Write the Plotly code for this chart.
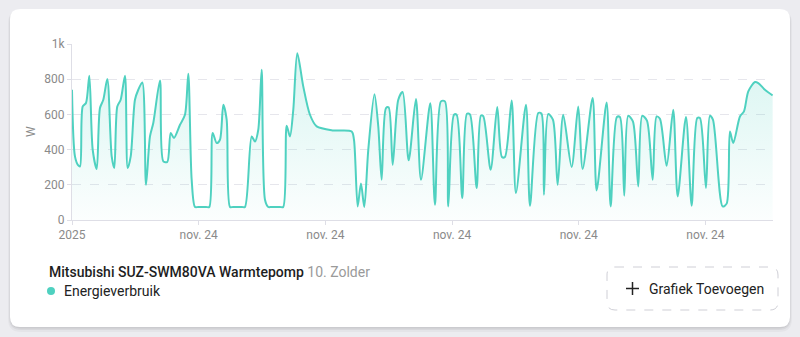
import plotly.graph_objects as go

# ---- data (hours since start, power in W) ----
hours = [0, 0.57, 1.19, 1.52, 2.03, 2.65, 3.28, 3.92, 4.68, 5.30, 5.93, 6.69, 7.52, 8.01,
         8.58, 9.22, 10.04, 10.55, 11.12, 11.93, 12.56, 13.32, 14.02, 14.77, 15.40, 16.67,
         17.29, 18.05, 18.70, 19.32, 20.46, 21.40, 22.03, 22.67, 23.30, 23.9, 25.4, 26.01,
         26.65, 27.41, 28.03, 28.66, 29.30, 29.93, 30.5, 32.2, 32.77, 34.04, 34.66, 35.29,
         35.93, 36.56, 37.18, 37.8, 39.4, 40.02,
         40.67, 41.29, 41.92, 42.68, 43.81, 45.08, 46.35, 49.49, 52.98, 53.42, 54.12, 54.74,
         55.37, 56.13, 57.30, 58.02, 58.66, 59.48, 59.99, 60.75, 61.81, 62.64, 63.78, 65.16,
         66.11, 67.87, 68.76, 69.90, 70.65, 71.28, 72.36, 72.87, 73.93, 74.82, 75.39, 76.66,
         77.47, 77.91, 79.31, 80.56, 81.45, 82.02, 83.29, 84.10, 86.00, 86.76, 88.33, 88.93,
         89.41, 90.22, 91.11, 92.00, 93.06, 94.65, 95.90, 96.74, 98.63, 99.39, 101.28, 102.04,
         103.23, 103.80, 104.62, 105.37, 106.26, 107.27, 108.03, 108.92, 110.00, 110.75,
         111.38, 112.65, 113.90, 114.74, 116.31, 117.39, 118.45, 118.96, 120.10, 120.85,
         121.42, 123.26, 124.02, 124.64, 125.27, 126.54, 127.30, 128.12, 129.38, 130.01,
         131.27, 132.73]
watts = [740, 360, 310, 305, 645, 665, 820, 400, 290, 636, 683, 801, 361, 295,
         645, 683, 820, 295, 361, 683, 740, 782, 200, 475, 551, 793,
         333, 330, 494, 466, 541, 598, 831, 229, 74, 74, 74, 74,
         494, 437, 456, 655, 570, 74, 74, 74, 74, 475, 446, 513,
         854, 115, 74, 74, 74, 74,
         536, 475, 626, 948, 759, 598, 532, 509, 503, 456, 77, 208,
         74, 400, 715, 532, 229, 636, 640, 314, 683, 727, 339, 687,
         229, 663, 87, 674, 674, 77, 598, 598, 125, 604, 600, 182,
         594, 590, 286, 642, 358, 358, 679, 153, 655, 81, 608, 605,
         144, 602, 570, 200, 598, 301, 645, 290, 693, 168, 667, 77,
         585, 585, 138, 592, 560, 191, 592, 565, 229, 588,
         575, 308, 626, 134, 585, 81, 579, 579, 182, 592,
         570, 77, 93, 503, 437, 588, 617, 731, 784, 778,
         740, 708]

x_tick_vals = [0, 24, 48, 72, 96, 120]
x_tick_text = ["2025", "nov. 24", "nov. 24", "nov. 24", "nov. 24", "nov. 24"]
y_tick_vals = [0, 200, 400, 600, 800, 1000]
y_tick_text = ["0", "200", "400", "600", "800", "1k"]

device_name = "Mitsubishi SUZ-SWM80VA Warmtepomp"
room_name = "10. Zolder"
series_name = "Energieverbruik"
button_text = "Grafiek Toevoegen"

LINE = "#4fd1c0"
FONT = "Roboto"

# ---- layout geometry (pixels) ----
W, H = 800, 337
L, R, T, B = 72, 27, 44, 117
PW, PH = W - L - R, H - T - B


def px(x):
    return (x - L) / PW


def py(y):
    return (H - B - y) / PH


def rounded(x0, y0, x1, y1, r):
    X0, X1 = px(x0), px(x1)
    Y0, Y1 = py(y0), py(y1)
    rx, ry = r / PW, r / PH
    return (f"M {X0+rx},{Y0} L {X1-rx},{Y0} Q {X1},{Y0} {X1},{Y0-ry} "
            f"L {X1},{Y1+ry} Q {X1},{Y1} {X1-rx},{Y1} L {X0+rx},{Y1} "
            f"Q {X0},{Y1} {X0},{Y1+ry} L {X0},{Y0-ry} Q {X0},{Y0} {X0+rx},{Y0} Z")


fig = go.Figure()
fig.add_trace(go.Scatter(
    x=hours, y=watts, mode="lines",
    line=dict(color=LINE, width=2, shape="spline", smoothing=0.8),
    fill="tozeroy",
    fillgradient=dict(type="vertical",
                      colorscale=[[0, "rgba(79,209,192,0.02)"], [1, "rgba(79,209,192,0.22)"]]),
    hoverinfo="skip", showlegend=False,
))

shapes = []
# card shadow + card
shapes.append(dict(type="path", xref="paper", yref="paper", layer="below",
                   path=rounded(8, 10, 792, 332, 13), fillcolor="rgba(0,0,0,0.03)", line=dict(width=0)))
shapes.append(dict(type="path", xref="paper", yref="paper", layer="below",
                   path=rounded(9, 10, 791, 330, 12), fillcolor="rgba(0,0,0,0.05)", line=dict(width=0)))
shapes.append(dict(type="path", xref="paper", yref="paper", layer="below",
                   path=rounded(10, 9.5, 790, 328.5, 11), fillcolor="rgba(0,0,0,0.06)", line=dict(width=0)))
shapes.append(dict(type="path", xref="paper", yref="paper", layer="below",
                   path=rounded(10, 9, 790, 327, 10), fillcolor="white", line=dict(width=0)))
# legend dot
shapes.append(dict(type="circle", xref="paper", yref="paper",
                   x0=px(47), x1=px(55), y0=py(287), y1=py(295),
                   fillcolor=LINE, line=dict(width=0)))
# dashed button
shapes.append(dict(type="path", xref="paper", yref="paper",
                   path=rounded(607, 267, 778, 310, 8), fillcolor="rgba(0,0,0,0)",
                   line=dict(color="#cfcfd6", width=1, dash="dash")))
# plus sign in button
shapes.append(dict(type="line", xref="paper", yref="paper",
                   x0=px(626), x1=px(639), y0=py(288.5), y1=py(288.5),
                   line=dict(color="#222222", width=1.5)))
shapes.append(dict(type="line", xref="paper", yref="paper",
                   x0=px(632.5), x1=px(632.5), y0=py(282), y1=py(295),
                   line=dict(color="#222222", width=1.5)))

annotations = [
    dict(x=px(47), y=py(272), xref="paper", yref="paper", xanchor="left", yanchor="middle",
         showarrow=False,
         text=f"<span style='font-weight:500;color:#1e1e1e'>{device_name}</span> "
              f"<span style='color:#9a9a9a'>{room_name}</span>",
         font=dict(family=FONT, size=14, color="#1e1e1e")),
    dict(x=px(62), y=py(291), xref="paper", yref="paper", xanchor="left", yanchor="middle",
         showarrow=False, text=series_name,
         font=dict(family=FONT, size=14, color="#222222")),
    dict(x=px(647), y=py(288.5), xref="paper", yref="paper", xanchor="left", yanchor="middle",
         showarrow=False, text=button_text,
         font=dict(family=FONT, size=14, color="#222222")),
    dict(x=px(31), y=py(132), xref="paper", yref="paper", xanchor="center", yanchor="middle",
         showarrow=False, text="W", textangle=-90,
         font=dict(family=FONT, size=12, color="#8a8a8a")),
]

fig.update_layout(
    width=W, height=H,
    margin=dict(l=L, r=R, t=T, b=B, pad=0),
    paper_bgcolor="#ececf0",
    plot_bgcolor="rgba(0,0,0,0)",
    shapes=shapes,
    annotations=annotations,
    font=dict(family=FONT, size=12, color="#8a8a8a"),
    xaxis=dict(range=[0, 132.8], tickvals=x_tick_vals, ticktext=x_tick_text,
               showgrid=False, zeroline=False, showline=True, linecolor="#dedee6", linewidth=1,
               ticks="outside", ticklen=4, tickcolor="#dedee6",
               tickfont=dict(family=FONT, size=12, color="#8a8a8a"), fixedrange=True),
    yaxis=dict(range=[0, 1000], tickvals=y_tick_vals, ticktext=y_tick_text,
               showgrid=True, gridcolor="#e6e6ec", griddash="dash", gridwidth=1,
               zeroline=False, showline=True, linecolor="#dedee6", linewidth=1,
               ticks="outside", ticklen=4, tickcolor="#dedee6",
               tickfont=dict(family=FONT, size=12, color="#8a8a8a"), fixedrange=True),
)

fig.write_html("out.html", config={"displayModeBar": False})
